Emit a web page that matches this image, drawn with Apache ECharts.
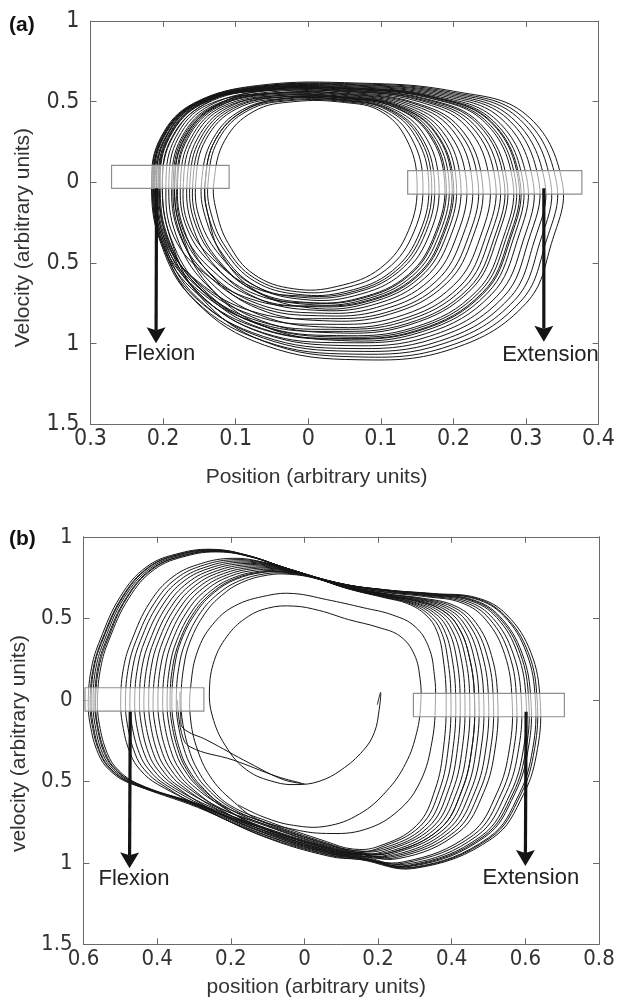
<!DOCTYPE html>
<html>
<head>
<meta charset="utf-8">
<script src="https://cdn.jsdelivr.net/npm/echarts@6/dist/echarts.min.js"></script>
<style>
  html, body { margin: 0; padding: 0; background: #ffffff; }
  #chart { width: 618px; height: 1002px; }
</style>
</head>
<body>
<div id="chart"></div>
<script>
// ---------- Panel (a): position / velocity cycles, one array per cycle ----------
const loopA01 = [[-0.13,0],[-0.115,0.26],[-0.075,0.44],[-0.02,0.5],[0.05,0.495],[0.1,0.44],[0.135,0.27],[0.15,0],[0.138,-0.3],[0.1,-0.53],[0.04,-0.645],[-0.02,-0.66],[-0.075,-0.57],[-0.11,-0.38],[-0.127,-0.17]];
const loopA02 = [[-0.138,0],[-0.124,0.262],[-0.083,0.445],[-0.024,0.507],[0.051,0.5],[0.104,0.445],[0.142,0.276],[0.158,0],[0.146,-0.303],[0.108,-0.539],[0.046,-0.66],[-0.016,-0.678],[-0.074,-0.594],[-0.113,-0.407],[-0.134,-0.191]];
const loopA03 = [[-0.142,0],[-0.128,0.263],[-0.087,0.448],[-0.026,0.512],[0.052,0.505],[0.108,0.45],[0.148,0.282],[0.166,0],[0.154,-0.306],[0.116,-0.548],[0.053,-0.676],[-0.013,-0.695],[-0.074,-0.613],[-0.115,-0.424],[-0.138,-0.202]];
const loopA04 = [[-0.142,0],[-0.128,0.263],[-0.087,0.448],[-0.031,0.521],[0.055,0.527],[0.127,0.474],[0.18,0.311],[0.204,0],[0.191,-0.322],[0.154,-0.589],[0.083,-0.749],[0.004,-0.779],[-0.071,-0.676],[-0.119,-0.451],[-0.138,-0.202]];
const loopA05 = [[-0.147,0],[-0.132,0.264],[-0.091,0.45],[-0.029,0.518],[0.053,0.513],[0.115,0.459],[0.16,0.293],[0.18,0],[0.168,-0.312],[0.13,-0.563],[0.064,-0.703],[-0.007,-0.726],[-0.073,-0.642],[-0.118,-0.445],[-0.142,-0.212]];
const loopA06 = [[-0.155,0],[-0.141,0.266],[-0.099,0.455],[-0.031,0.521],[0.052,0.509],[0.112,0.455],[0.155,0.288],[0.174,0],[0.162,-0.31],[0.124,-0.556],[0.059,-0.691],[-0.009,-0.713],[-0.073,-0.643],[-0.12,-0.462],[-0.149,-0.233]];
const loopA07 = [[-0.159,0],[-0.145,0.267],[-0.103,0.458],[-0.034,0.529],[0.054,0.521],[0.122,0.468],[0.171,0.303],[0.194,0],[0.181,-0.318],[0.144,-0.578],[0.075,-0.73],[0,-0.757],[-0.071,-0.681],[-0.123,-0.487],[-0.153,-0.244]];
const loopA08 = [[-0.163,0],[-0.149,0.268],[-0.107,0.46],[-0.035,0.53],[0.054,0.518],[0.119,0.464],[0.166,0.299],[0.188,0],[0.175,-0.315],[0.138,-0.572],[0.07,-0.718],[-0.003,-0.744],[-0.071,-0.677],[-0.124,-0.494],[-0.156,-0.254]];
const loopA09 = [[-0.167,0],[-0.153,0.269],[-0.111,0.463],[-0.039,0.538],[0.056,0.531],[0.13,0.478],[0.185,0.315],[0.21,0],[0.197,-0.324],[0.16,-0.596],[0.088,-0.761],[0.007,-0.792],[-0.07,-0.719],[-0.128,-0.52],[-0.16,-0.265]];
const loopA10 = [[-0.18,0],[-0.166,0.272],[-0.123,0.47],[-0.046,0.553],[0.059,0.549],[0.145,0.496],[0.209,0.338],[0.24,0],[0.227,-0.336],[0.19,-0.629],[0.112,-0.818],[0.021,-0.858],[-0.068,-0.785],[-0.134,-0.574],[-0.171,-0.296]];
const loopA11 = [[-0.181,0],[-0.168,0.272],[-0.125,0.471],[-0.042,0.544],[0.055,0.525],[0.125,0.471],[0.176,0.308],[0.2,0],[0.187,-0.32],[0.15,-0.585],[0.08,-0.741],[0.003,-0.77],[-0.07,-0.721],[-0.131,-0.55],[-0.172,-0.3]];
const loopA12 = [[-0.184,0],[-0.17,0.273],[-0.127,0.473],[-0.045,0.55],[0.057,0.536],[0.134,0.483],[0.191,0.321],[0.218,0],[0.205,-0.327],[0.168,-0.605],[0.094,-0.776],[0.011,-0.81],[-0.069,-0.754],[-0.134,-0.569],[-0.174,-0.307]];
const loopA13 = [[-0.186,0],[-0.173,0.274],[-0.129,0.474],[-0.05,0.561],[0.061,0.56],[0.154,0.508],[0.224,0.351],[0.258,0],[0.244,-0.343],[0.208,-0.649],[0.126,-0.853],[0.029,-0.898],[-0.066,-0.823],[-0.138,-0.605],[-0.177,-0.313]];
const loopA14 = [[-0.188,0],[-0.175,0.274],[-0.131,0.475],[-0.047,0.554],[0.058,0.541],[0.138,0.488],[0.198,0.327],[0.226,0],[0.213,-0.33],[0.176,-0.614],[0.101,-0.791],[0.014,-0.827],[-0.068,-0.772],[-0.136,-0.586],[-0.178,-0.317]];
const loopA15 = [[-0.184,0],[-0.171,0.274],[-0.127,0.475],[-0.056,0.572],[0.065,0.583],[0.173,0.531],[0.255,0.38],[0.296,0],[0.282,-0.358],[0.246,-0.691],[0.157,-0.926],[0.046,-0.981],[-0.064,-0.887],[-0.138,-0.636],[-0.174,-0.317]];
const loopA16 = [[-0.205,0],[-0.192,0.278],[-0.147,0.485],[-0.059,0.578],[0.063,0.574],[0.166,0.523],[0.244,0.369],[0.282,0],[0.268,-0.353],[0.232,-0.675],[0.146,-0.899],[0.039,-0.95],[-0.064,-0.887],[-0.146,-0.669],[-0.193,-0.359]];
const loopA17 = [[-0.201,0],[-0.188,0.278],[-0.143,0.485],[-0.067,0.593],[0.069,0.61],[0.196,0.56],[0.293,0.414],[0.342,0],[0.327,-0.377],[0.292,-0.741],[0.194,-1.015],[0.066,-1.082],[-0.061,-0.986],[-0.148,-0.713],[-0.189,-0.359]];
const loopA18 = [[-0.206,0],[-0.193,0.278],[-0.149,0.486],[-0.063,0.586],[0.066,0.591],[0.18,0.54],[0.267,0.39],[0.31,0],[0.296,-0.364],[0.26,-0.706],[0.168,-0.953],[0.052,-1.012],[-0.063,-0.935],[-0.149,-0.694],[-0.194,-0.363]];
const loopA19 = [[-0.207,0],[-0.194,0.279],[-0.149,0.487],[-0.056,0.572],[0.06,0.555],[0.15,0.503],[0.218,0.345],[0.25,0],[0.237,-0.34],[0.2,-0.64],[0.12,-0.838],[0.025,-0.88],[-0.066,-0.838],[-0.144,-0.653],[-0.195,-0.365]];
const loopA20 = [[-0.209,0],[-0.196,0.279],[-0.151,0.488],[-0.054,0.569],[0.058,0.545],[0.142,0.493],[0.204,0.333],[0.234,0],[0.221,-0.334],[0.184,-0.622],[0.107,-0.807],[0.018,-0.845],[-0.067,-0.813],[-0.143,-0.646],[-0.196,-0.37]];
const loopA21 = [[-0.204,0],[-0.191,0.279],[-0.146,0.488],[-0.061,0.583],[0.064,0.579],[0.17,0.528],[0.251,0.375],[0.29,0],[0.276,-0.356],[0.24,-0.684],[0.152,-0.915],[0.043,-0.968],[-0.064,-0.906],[-0.143,-0.686],[-0.191,-0.37]];
const loopA22 = [[-0.212,0],[-0.199,0.279],[-0.154,0.488],[-0.066,0.592],[0.068,0.601],[0.188,0.55],[0.28,0.402],[0.326,0],[0.311,-0.37],[0.276,-0.724],[0.181,-0.984],[0.059,-1.047],[-0.062,-0.965],[-0.154,-0.712],[-0.199,-0.37]];
const loopA23 = [[-0.211,0],[-0.197,0.279],[-0.153,0.489],[-0.059,0.577],[0.061,0.563],[0.157,0.511],[0.229,0.356],[0.264,0],[0.25,-0.346],[0.214,-0.655],[0.131,-0.864],[0.031,-0.911],[-0.065,-0.865],[-0.146,-0.672],[-0.198,-0.374]];
const loopA24 = [[-0.215,0],[-0.202,0.28],[-0.156,0.489],[-0.066,0.591],[0.067,0.596],[0.184,0.545],[0.274,0.396],[0.318,0],[0.303,-0.367],[0.268,-0.715],[0.174,-0.968],[0.056,-1.03],[-0.062,-0.955],[-0.156,-0.713],[-0.202,-0.376]];
const loopA25 = [[-0.213,0],[-0.2,0.28],[-0.155,0.49],[-0.06,0.58],[0.062,0.567],[0.16,0.515],[0.234,0.36],[0.27,0],[0.256,-0.348],[0.22,-0.662],[0.136,-0.876],[0.034,-0.924],[-0.065,-0.878],[-0.148,-0.682],[-0.2,-0.38]];
const loopA26 = [[-0.209,0],[-0.196,0.28],[-0.151,0.49],[-0.064,0.588],[0.065,0.586],[0.176,0.535],[0.26,0.384],[0.302,0],[0.288,-0.361],[0.252,-0.697],[0.162,-0.938],[0.048,-0.994],[-0.063,-0.931],[-0.147,-0.705],[-0.196,-0.38]];
const loopA27 = [[-0.216,0],[-0.203,0.28],[-0.158,0.49],[-0.068,0.596],[0.068,0.605],[0.192,0.555],[0.287,0.408],[0.334,0],[0.319,-0.374],[0.284,-0.732],[0.187,-0.999],[0.063,-1.065],[-0.061,-0.984],[-0.157,-0.728],[-0.203,-0.38]];
const loopA28 = [[-0.213,0],[-0.2,0.28],[-0.155,0.49],[-0.07,0.6],[0.07,0.615],[0.2,0.565],[0.3,0.42],[0.35,0],[0.335,-0.38],[0.3,-0.75],[0.2,-1.03],[0.07,-1.1],[-0.06,-1.01],[-0.155,-0.74],[-0.2,-0.38]];
const loopA29 = [[-0.176,0],[-0.162,0.271],[-0.119,0.468],[-0.039,0.538],[0.054,0.519],[0.12,0.465],[0.168,0.3],[0.19,0],[0.177,-0.316],[0.14,-0.574],[0.072,-0.722],[-0.002,-0.748],[-0.071,-0.697],[-0.128,-0.528],[-0.167,-0.286]];
const loopA30 = [[-0.196,0],[-0.183,0.276],[-0.139,0.48],[-0.046,0.552],[0.055,0.524],[0.124,0.47],[0.175,0.306],[0.198,0],[0.185,-0.319],[0.148,-0.583],[0.078,-0.737],[0.002,-0.766],[-0.069,-0.737],[-0.136,-0.587],[-0.185,-0.338]];
const loopA31 = [[-0.201,0],[-0.187,0.277],[-0.143,0.483],[-0.058,0.577],[0.064,0.577],[0.168,0.525],[0.247,0.372],[0.286,0],[0.272,-0.354],[0.236,-0.68],[0.149,-0.907],[0.041,-0.959],[-0.064,-0.888],[-0.145,-0.662],[-0.189,-0.349]];
const loopA32 = [[-0.214,0],[-0.201,0.28],[-0.156,0.489],[-0.062,0.585],[0.064,0.58],[0.171,0.529],[0.252,0.377],[0.292,0],[0.278,-0.357],[0.242,-0.686],[0.154,-0.918],[0.044,-0.972],[-0.063,-0.912],[-0.152,-0.694],[-0.202,-0.376]];
const loopA33 = [[-0.172,0],[-0.158,0.27],[-0.115,0.465],[-0.035,0.53],[0.052,0.507],[0.11,0.453],[0.152,0.285],[0.17,0],[0.158,-0.308],[0.12,-0.552],[0.056,-0.684],[-0.011,-0.704],[-0.072,-0.658],[-0.125,-0.502],[-0.164,-0.275]];
const loopA34 = [[-0.192,0],[-0.179,0.275],[-0.135,0.478],[-0.054,0.569],[0.062,0.569],[0.162,0.518],[0.237,0.363],[0.274,0],[0.26,-0.35],[0.224,-0.666],[0.139,-0.884],[0.036,-0.933],[-0.065,-0.857],[-0.141,-0.631],[-0.182,-0.328]];

const cyclesA = [loopA01, loopA02, loopA03, loopA04, loopA05, loopA06, loopA07, loopA08, loopA09, loopA10,
                 loopA11, loopA12, loopA13, loopA14, loopA15, loopA16, loopA17, loopA18, loopA19, loopA20,
                 loopA21, loopA22, loopA23, loopA24, loopA25, loopA26, loopA27, loopA28, loopA29, loopA30,
                 loopA31, loopA32, loopA33, loopA34];

// ---------- Panel (b): open spiral traces, then closed cycles ----------
const spiralB = [[0.198,-0.03],[0.207,0.045],[0.203,-0.06],[0.19,-0.2],[0.16,-0.31],[0.1,-0.43],[0.04,-0.5],[-0.02,-0.52],[-0.08,-0.505],[-0.157,-0.43],[-0.215,-0.28],[-0.25,-0.1],[-0.258,0.06],[-0.245,0.24],[-0.21,0.39],[-0.16,0.5],[-0.1,0.562],[-0.03,0.575],[0.04,0.548],[0.12,0.492],[0.2,0.445],[0.26,0.39],[0.298,0.28],[0.314,0.13],[0.316,-0.02],[0.305,-0.2],[0.275,-0.39],[0.223,-0.56],[0.15,-0.7],[0.06,-0.775],[-0.03,-0.77],[-0.11,-0.72],[-0.18,-0.645]];
const spiralArmB1 = [[-0.338,0.05],[-0.336,-0.1],[-0.329,-0.175],[-0.265,-0.247],[-0.148,-0.39],[-0.057,-0.49],[0.0,-0.515]];
const spiralArmB2 = [[-0.345,0.0],[-0.334,-0.2],[-0.311,-0.288],[-0.193,-0.37],[-0.075,-0.47],[-0.01,-0.51]];
const loopB00 = [[-0.19,-0.63],[-0.25,-0.49],[-0.29,-0.31],[-0.31,-0.1],[-0.308,0.1],[-0.29,0.3],[-0.25,0.46],[-0.19,0.575],[-0.1,0.64],[-0.03,0.652],[0.06,0.615],[0.16,0.565],[0.24,0.52],[0.3,0.45],[0.338,0.32],[0.353,0.15],[0.356,0],[0.347,-0.25],[0.315,-0.5],[0.255,-0.68],[0.165,-0.795],[0.06,-0.82],[-0.04,-0.79],[-0.13,-0.73]];
const loopB01 = [[-0.335,0],[-0.328,0.2],[-0.31,0.36],[-0.27,0.53],[-0.225,0.64],[-0.17,0.72],[-0.1,0.765],[-0.04,0.77],[0.03,0.745],[0.12,0.68],[0.22,0.625],[0.28,0.59],[0.33,0.52],[0.36,0.42],[0.377,0.25],[0.385,0],[0.378,-0.29],[0.355,-0.55],[0.305,-0.77],[0.2,-0.9],[0.13,-0.915],[0.06,-0.87],[-0.1,-0.745],[-0.2,-0.65],[-0.26,-0.53],[-0.29,-0.43],[-0.31,-0.33],[-0.33,-0.15]];
const loopB02 = [[-0.348,0],[-0.341,0.2],[-0.322,0.36],[-0.282,0.535],[-0.235,0.649],[-0.178,0.729],[-0.107,0.773],[-0.046,0.776],[0.024,0.75],[0.118,0.683],[0.22,0.629],[0.287,0.596],[0.344,0.531],[0.379,0.43],[0.401,0.254],[0.411,0],[0.404,-0.291],[0.379,-0.553],[0.326,-0.778],[0.21,-0.913],[0.132,-0.924],[0.061,-0.885],[-0.101,-0.76],[-0.205,-0.655],[-0.271,-0.529],[-0.302,-0.43],[-0.323,-0.33],[-0.343,-0.15]];
const loopB03 = [[-0.36,0],[-0.353,0.2],[-0.335,0.361],[-0.293,0.54],[-0.245,0.658],[-0.187,0.738],[-0.115,0.781],[-0.052,0.782],[0.024,0.75],[0.118,0.683],[0.22,0.629],[0.284,0.593],[0.337,0.525],[0.37,0.425],[0.389,0.252],[0.398,0],[0.391,-0.29],[0.367,-0.552],[0.315,-0.774],[0.205,-0.907],[0.132,-0.941],[0.061,-0.92],[-0.101,-0.8],[-0.209,-0.675],[-0.281,-0.528],[-0.314,-0.43],[-0.335,-0.33],[-0.355,-0.15]];
const loopB04 = [[-0.365,0],[-0.358,0.2],[-0.339,0.361],[-0.298,0.542],[-0.249,0.661],[-0.19,0.742],[-0.118,0.784],[-0.054,0.784],[0.014,0.758],[0.115,0.687],[0.221,0.636],[0.301,0.609],[0.372,0.552],[0.417,0.45],[0.448,0.262],[0.462,0],[0.455,-0.293],[0.427,-0.559],[0.367,-0.794],[0.23,-0.94],[0.134,-0.932],[0.062,-0.895],[-0.103,-0.77],[-0.211,-0.66],[-0.286,-0.528],[-0.319,-0.43],[-0.34,-0.33],[-0.36,-0.15]];
const loopB05 = [[-0.373,0],[-0.366,0.2],[-0.347,0.361],[-0.305,0.545],[-0.255,0.667],[-0.195,0.747],[-0.122,0.789],[-0.058,0.788],[0.009,0.762],[0.114,0.69],[0.221,0.639],[0.308,0.615],[0.386,0.562],[0.436,0.46],[0.472,0.266],[0.487,0],[0.48,-0.294],[0.451,-0.562],[0.387,-0.802],[0.24,-0.954],[0.136,-0.942],[0.062,-0.91],[-0.103,-0.79],[-0.214,-0.67],[-0.292,-0.527],[-0.326,-0.43],[-0.348,-0.33],[-0.368,-0.15]];
const loopB06 = [[-0.385,0],[-0.378,0.2],[-0.359,0.361],[-0.316,0.551],[-0.266,0.675],[-0.204,0.756],[-0.129,0.797],[-0.063,0.794],[0.016,0.756],[0.116,0.686],[0.221,0.634],[0.291,0.599],[0.351,0.536],[0.389,0.435],[0.413,0.256],[0.423,0],[0.416,-0.292],[0.391,-0.555],[0.336,-0.782],[0.215,-0.92],[0.134,-0.925],[0.062,-0.88],[-0.102,-0.755],[-0.219,-0.655],[-0.303,-0.526],[-0.338,-0.43],[-0.36,-0.33],[-0.38,-0.15]];
const loopB07 = [[-0.398,0],[-0.391,0.2],[-0.371,0.362],[-0.328,0.556],[-0.276,0.684],[-0.212,0.765],[-0.137,0.805],[-0.069,0.8],[0.012,0.759],[0.115,0.688],[0.221,0.636],[0.294,0.602],[0.358,0.541],[0.398,0.44],[0.425,0.258],[0.436,0],[0.429,-0.292],[0.403,-0.556],[0.346,-0.786],[0.22,-0.927],[0.135,-0.95],[0.062,-0.93],[-0.103,-0.81],[-0.223,-0.68],[-0.314,-0.526],[-0.35,-0.43],[-0.373,-0.33],[-0.393,-0.15]];
const loopB08 = [[-0.411,0],[-0.403,0.2],[-0.384,0.362],[-0.339,0.561],[-0.286,0.693],[-0.22,0.774],[-0.144,0.812],[-0.075,0.805],[0.009,0.762],[0.114,0.69],[0.221,0.639],[0.298,0.606],[0.365,0.546],[0.408,0.445],[0.437,0.26],[0.449,0],[0.442,-0.293],[0.415,-0.558],[0.356,-0.79],[0.225,-0.934],[0.136,-0.936],[0.062,-0.9],[-0.103,-0.775],[-0.228,-0.665],[-0.324,-0.525],[-0.362,-0.43],[-0.385,-0.33],[-0.406,-0.15]];
const loopB09 = [[-0.423,0],[-0.416,0.2],[-0.396,0.362],[-0.351,0.566],[-0.296,0.702],[-0.229,0.783],[-0.151,0.82],[-0.081,0.811],[0.005,0.765],[0.113,0.691],[0.221,0.641],[0.301,0.609],[0.372,0.552],[0.417,0.45],[0.448,0.262],[0.462,0],[0.455,-0.293],[0.427,-0.559],[0.367,-0.794],[0.23,-0.94],[0.137,-0.945],[0.063,-0.915],[-0.104,-0.795],[-0.233,-0.675],[-0.335,-0.524],[-0.374,-0.43],[-0.398,-0.33],[-0.418,-0.15]];
const loopB10 = [[-0.436,0],[-0.428,0.2],[-0.408,0.363],[-0.362,0.571],[-0.306,0.711],[-0.237,0.792],[-0.159,0.828],[-0.087,0.817],[-0.007,0.774],[0.109,0.697],[0.221,0.649],[0.319,0.624],[0.407,0.578],[0.465,0.475],[0.508,0.272],[0.525,0],[0.518,-0.296],[0.487,-0.567],[0.418,-0.814],[0.255,-0.974],[0.14,-0.936],[0.064,-0.89],[-0.106,-0.765],[-0.237,-0.66],[-0.346,-0.523],[-0.386,-0.43],[-0.41,-0.33],[-0.431,-0.15]];
const loopB11 = [[-0.448,0],[-0.441,0.2],[-0.42,0.363],[-0.374,0.576],[-0.316,0.72],[-0.246,0.801],[-0.166,0.836],[-0.093,0.823],[-0.001,0.77],[0.111,0.694],[0.221,0.645],[0.305,0.612],[0.379,0.557],[0.427,0.455],[0.46,0.264],[0.474,0],[0.467,-0.294],[0.439,-0.561],[0.377,-0.798],[0.235,-0.947],[0.138,-0.959],[0.064,-0.94],[-0.105,-0.82],[-0.242,-0.685],[-0.356,-0.522],[-0.398,-0.43],[-0.423,-0.33],[-0.443,-0.15]];
const loopB12 = [[-0.461,0],[-0.453,0.2],[-0.433,0.364],[-0.385,0.582],[-0.327,0.729],[-0.254,0.81],[-0.174,0.844],[-0.099,0.829],[-0.007,0.775],[0.109,0.697],[0.221,0.649],[0.312,0.618],[0.393,0.567],[0.446,0.465],[0.484,0.268],[0.5,0],[0.493,-0.295],[0.463,-0.564],[0.397,-0.806],[0.245,-0.96],[0.14,-0.943],[0.064,-0.905],[-0.106,-0.785],[-0.247,-0.665],[-0.367,-0.521],[-0.41,-0.43],[-0.435,-0.33],[-0.456,-0.15]];
const loopB13 = [[-0.474,0],[-0.466,0.2],[-0.445,0.364],[-0.397,0.587],[-0.337,0.737],[-0.262,0.819],[-0.181,0.852],[-0.104,0.835],[-0.011,0.778],[0.108,0.698],[0.222,0.651],[0.315,0.621],[0.4,0.573],[0.455,0.47],[0.496,0.27],[0.513,0],[0.506,-0.295],[0.475,-0.565],[0.408,-0.81],[0.25,-0.967],[0.141,-0.955],[0.065,-0.925],[-0.106,-0.805],[-0.251,-0.675],[-0.378,-0.52],[-0.422,-0.43],[-0.448,-0.33],[-0.469,-0.15]];
const loopB14 = [[-0.486,0],[-0.478,0.2],[-0.457,0.364],[-0.408,0.592],[-0.347,0.746],[-0.271,0.828],[-0.188,0.86],[-0.11,0.841],[-0.021,0.785],[0.105,0.703],[0.222,0.658],[0.329,0.633],[0.428,0.594],[0.493,0.49],[0.544,0.278],[0.564,0],[0.557,-0.297],[0.523,-0.571],[0.449,-0.826],[0.27,-0.994],[0.144,-0.97],[0.066,-0.95],[-0.108,-0.83],[-0.256,-0.69],[-0.388,-0.519],[-0.434,-0.43],[-0.46,-0.33],[-0.481,-0.15]];
const loopB15 = [[-0.499,0],[-0.491,0.2],[-0.469,0.365],[-0.42,0.597],[-0.357,0.755],[-0.279,0.837],[-0.196,0.868],[-0.116,0.847],[-0.027,0.79],[0.103,0.705],[0.222,0.661],[0.336,0.64],[0.442,0.604],[0.512,0.5],[0.567,0.282],[0.589,0],[0.582,-0.298],[0.547,-0.574],[0.469,-0.834],[0.28,-1.007],[0.145,-0.951],[0.067,-0.91],[-0.109,-0.79],[-0.26,-0.67],[-0.399,-0.518],[-0.446,-0.43],[-0.473,-0.33],[-0.494,-0.15]];
const loopB16 = [[-0.562,0],[-0.553,0.2],[-0.531,0.366],[-0.477,0.623],[-0.408,0.799],[-0.321,0.882],[-0.232,0.907],[-0.145,0.876],[-0.034,0.796],[0.101,0.709],[0.222,0.666],[0.333,0.637],[0.435,0.599],[0.503,0.495],[0.556,0.28],[0.576,0],[0.569,-0.298],[0.535,-0.573],[0.459,-0.83],[0.275,-1],[0.147,-0.978],[0.067,-0.96],[-0.11,-0.84],[-0.284,-0.66],[-0.453,-0.514],[-0.506,-0.43],[-0.535,-0.33],[-0.557,-0.15]];
const loopB17 = [[-0.567,0],[-0.558,0.2],[-0.535,0.366],[-0.482,0.625],[-0.412,0.803],[-0.325,0.886],[-0.235,0.91],[-0.148,0.879],[-0.043,0.803],[0.099,0.713],[0.223,0.672],[0.347,0.649],[0.463,0.62],[0.541,0.515],[0.603,0.288],[0.627,0],[0.62,-0.3],[0.583,-0.579],[0.5,-0.846],[0.295,-1.027],[0.15,-0.966],[0.068,-0.93],[-0.111,-0.8],[-0.286,-0.645],[-0.457,-0.513],[-0.511,-0.43],[-0.54,-0.33],[-0.562,-0.15]];
const loopB18 = [[-0.569,0],[-0.561,0.2],[-0.538,0.367],[-0.484,0.626],[-0.414,0.805],[-0.326,0.887],[-0.237,0.912],[-0.149,0.88],[-0.041,0.801],[0.099,0.712],[0.223,0.67],[0.342,0.645],[0.453,0.612],[0.527,0.508],[0.586,0.285],[0.609,0],[0.602,-0.299],[0.566,-0.576],[0.485,-0.84],[0.288,-1.018],[0.149,-0.973],[0.068,-0.945],[-0.111,-0.825],[-0.286,-0.655],[-0.459,-0.513],[-0.513,-0.43],[-0.543,-0.33],[-0.564,-0.15]];
const loopB19 = [[-0.574,0],[-0.566,0.2],[-0.543,0.367],[-0.489,0.628],[-0.418,0.808],[-0.33,0.891],[-0.24,0.915],[-0.151,0.882],[-0.04,0.801],[0.099,0.712],[0.223,0.67],[0.34,0.643],[0.449,0.609],[0.522,0.505],[0.579,0.284],[0.602,0],[0.595,-0.299],[0.559,-0.576],[0.479,-0.838],[0.285,-1.014],[0.149,-0.968],[0.068,-0.935],[-0.111,-0.81],[-0.288,-0.65],[-0.463,-0.513],[-0.518,-0.43],[-0.548,-0.33],[-0.569,-0.15]];
const loopB20 = [[-0.579,0],[-0.571,0.2],[-0.548,0.367],[-0.493,0.63],[-0.422,0.812],[-0.333,0.895],[-0.243,0.918],[-0.154,0.885],[-0.047,0.806],[0.097,0.714],[0.223,0.674],[0.35,0.652],[0.47,0.625],[0.55,0.52],[0.615,0.29],[0.64,0],[0.633,-0.3],[0.595,-0.58],[0.51,-0.85],[0.3,-1.034],[0.151,-0.98],[0.069,-0.955],[-0.112,-0.835],[-0.29,-0.66],[-0.468,-0.513],[-0.523,-0.43],[-0.553,-0.33],[-0.574,-0.15]];
const loopB21 = [[-0.582,0],[-0.573,0.2],[-0.55,0.367],[-0.495,0.631],[-0.424,0.813],[-0.335,0.896],[-0.244,0.92],[-0.155,0.886],[-0.046,0.805],[0.098,0.714],[0.223,0.674],[0.348,0.65],[0.466,0.622],[0.544,0.517],[0.608,0.289],[0.632,0],[0.625,-0.3],[0.588,-0.579],[0.504,-0.848],[0.297,-1.03],[0.15,-0.972],[0.069,-0.94],[-0.112,-0.815],[-0.291,-0.645],[-0.47,-0.512],[-0.525,-0.43],[-0.555,-0.33],[-0.577,-0.15]];
const loopB22 = [[-0.587,0],[-0.578,0.2],[-0.555,0.367],[-0.5,0.633],[-0.428,0.817],[-0.338,0.9],[-0.247,0.923],[-0.157,0.888],[-0.044,0.804],[0.098,0.713],[0.223,0.673],[0.343,0.646],[0.456,0.615],[0.531,0.51],[0.591,0.286],[0.615,0],[0.608,-0.299],[0.571,-0.577],[0.49,-0.842],[0.29,-1.021],[0.15,-0.961],[0.069,-0.92],[-0.111,-0.79],[-0.293,-0.635],[-0.474,-0.512],[-0.53,-0.43],[-0.56,-0.33],[-0.582,-0.15]];

const openTracesB = [spiralB, spiralArmB1, spiralArmB2];
const cyclesB = [loopB00, loopB01, loopB02, loopB03, loopB04, loopB05, loopB06, loopB07, loopB08, loopB09,
                 loopB10, loopB11, loopB12, loopB13, loopB14, loopB15, loopB16, loopB17, loopB18, loopB19,
                 loopB20, loopB21, loopB22];

// ---------- Axis ranges and annotations (data units) ----------
const xRangeA = [-0.3, 0.4, 0.1];
const xRangeB = [-0.6, 0.8, 0.2];
const yRange = [-1.5, 1, 0.5];

// boxes: [x1, y1, x2, y2]
const boxesA = [[-0.271, 0.105, -0.109, -0.037], [0.137, 0.072, 0.377, -0.073]];
const boxesB = [[-0.596, 0.074, -0.273, -0.069], [0.296, 0.040, 0.706, -0.104]];
// arrows: [xStart, yStart, xTip, yTip]
const arrowsA = [[-0.209, -0.037, -0.2097, -0.998], [0.3246, -0.037, 0.3246, -0.988]];
const arrowsB = [[-0.473, -0.073, -0.475, -1.034], [0.602, -0.073, 0.600, -1.02]];
// phase labels: [text, x, y]
const phaseLabelsA = [['Flexion', -0.2045, -1.064], ['Extension', 0.3337, -1.067]];
const phaseLabelsB = [['Flexion', -0.463, -1.099], ['Extension', 0.615, -1.093]];

// ---------- Helpers ----------
const AXIS_COLOR = '#6a6a6a';
const TRACE_COLOR = '#151515';
const TICK_FONT = '"Liberation Sans Narrow", "DejaVu Sans Condensed", sans-serif';
const NAME_FONT = '"Liberation Sans", Arial, sans-serif';

function tickText(v) {
  return String(Math.round(Math.abs(v) * 10) / 10);
}

function valueAxis(gridIndex, range, position, opts) {
  const showLabel = !!opts.label;
  return {
    type: 'value',
    gridIndex: gridIndex,
    position: position,
    min: range[0],
    max: range[1],
    interval: range[2],
    axisLine: { show: true, onZero: false, lineStyle: { color: AXIS_COLOR, width: 1 } },
    axisTick: { show: true, inside: true, length: 6, lineStyle: { color: AXIS_COLOR, width: 1 } },
    splitLine: { show: false },
    axisLabel: showLabel ? {
      show: true, formatter: tickText, margin: opts.margin,
      color: '#333', fontFamily: TICK_FONT, fontSize: opts.fontSize
    } : { show: false },
    name: opts.name || '',
    nameLocation: 'middle',
    nameGap: opts.nameGap || 0,
    nameTextStyle: {
      color: '#333', fontFamily: NAME_FONT, fontSize: 21,
      padding: opts.namePad || 0
    }
  };
}

// each closed cycle is drawn as a smooth closed curve through its sampled points
function cycleRenderer(cycles) {
  return function (params, api) {
    const pts = cycles[params.dataIndex].map(function (p) { return api.coord(p); });
    return {
      type: 'polygon',
      shape: { points: pts, smooth: 0.4 },
      style: { fill: 'none', stroke: TRACE_COLOR, lineWidth: 1 }
    };
  };
}

function openRenderer(paths) {
  return function (params, api) {
    const pts = paths[params.dataIndex].map(function (p) { return api.coord(p); });
    return {
      type: 'polyline',
      shape: { points: pts, smooth: 0.4 },
      style: { fill: null, stroke: TRACE_COLOR, lineWidth: 1 }
    };
  };
}

function cycleSeries(cycles, axisIndex, open) {
  return {
    type: 'custom',
    xAxisIndex: axisIndex, yAxisIndex: axisIndex,
    renderItem: open ? openRenderer(cycles) : cycleRenderer(cycles),
    data: cycles.map(function (c) { return c[0]; }),
    silent: true, z: 2, animation: false
  };
}

function renderBox(params, api) {
  const a = api.coord([api.value(0), api.value(1)]);
  const b = api.coord([api.value(2), api.value(3)]);
  return {
    type: 'rect',
    shape: { x: Math.min(a[0], b[0]), y: Math.min(a[1], b[1]),
             width: Math.abs(b[0] - a[0]), height: Math.abs(b[1] - a[1]) },
    style: { fill: 'rgba(255,255,255,0.6)', stroke: '#8e8e8e', lineWidth: 1.2 }
  };
}

function renderArrow(params, api) {
  const a = api.coord([api.value(0), api.value(1)]);
  const b = api.coord([api.value(2), api.value(3)]);
  const dx = b[0] - a[0], dy = b[1] - a[1];
  const len = Math.sqrt(dx * dx + dy * dy);
  const ux = dx / len, uy = dy / len;
  const headLen = 16, headHalf = 9.5;
  const bx = b[0] - ux * headLen, by = b[1] - uy * headLen;
  const nx = -uy, ny = ux;
  return {
    type: 'group',
    children: [
      { type: 'line', shape: { x1: a[0], y1: a[1], x2: bx + ux * 3, y2: by + uy * 3 },
        style: { stroke: '#141414', lineWidth: 3.2 } },
      { type: 'polygon',
        shape: { points: [[b[0], b[1]], [bx + nx * headHalf, by + ny * headHalf],
                          [bx + ux * 3, by + uy * 3], [bx - nx * headHalf, by - ny * headHalf]] },
        style: { fill: '#141414' } }
    ]
  };
}

function labelRenderer(list) {
  return function (params, api) {
    const p = api.coord([api.value(0), api.value(1)]);
    return {
      type: 'text', x: p[0], y: p[1],
      style: {
        text: list[params.dataIndex][0], fill: '#222',
        font: '22px "Liberation Sans", Arial, sans-serif',
        align: 'center', verticalAlign: 'middle',
        textAlign: 'center', textVerticalAlign: 'middle'
      }
    };
  };
}

function annotationSeries(boxes, arrows, labels, axisIndex) {
  return [
    { type: 'custom', xAxisIndex: axisIndex, yAxisIndex: axisIndex, z: 4, silent: true,
      dimensions: ['x1', 'y1', 'x2', 'y2'], encode: { x: [0, 2], y: [1, 3] },
      renderItem: renderBox, data: boxes, animation: false },
    { type: 'custom', xAxisIndex: axisIndex, yAxisIndex: axisIndex, z: 5, silent: true,
      dimensions: ['x1', 'y1', 'x2', 'y2'], encode: { x: [0, 2], y: [1, 3] },
      renderItem: renderArrow, data: arrows, animation: false },
    { type: 'custom', xAxisIndex: axisIndex, yAxisIndex: axisIndex, z: 5, silent: true,
      renderItem: labelRenderer(labels), data: labels.map(function (l) { return [l[1], l[2]]; }),
      clip: false, animation: false }
  ];
}

// ---------- Chart ----------
const chart = echarts.init(document.getElementById('chart'), null, { renderer: 'canvas' });

const option = {
  animation: false,
  backgroundColor: '#ffffff',
  grid: [
    { left: 90.5, right: 15.2, top: 21, height: 403.3, containLabel: false },
    { left: 83.5, right: 19, top: 536.8, height: 407.5, containLabel: false }
  ],
  xAxis: [
    valueAxis(0, xRangeA, 'bottom', { label: true, margin: 3, fontSize: 23,
      name: 'Position (arbitrary units)', nameGap: 42, namePad: [0, 56, 0, 0] }),
    valueAxis(0, xRangeA, 'top', {}),
    valueAxis(1, xRangeB, 'bottom', { label: true, margin: 4, fontSize: 22,
      name: 'position (arbitrary units)', nameGap: 32, namePad: [0, 50, 0, 0] }),
    valueAxis(1, xRangeB, 'top', {})
  ],
  yAxis: [
    valueAxis(0, yRange, 'left', { label: true, margin: 11, fontSize: 23,
      name: 'Velocity (arbitrary units)', nameGap: 57, namePad: [0, 30, 0, 0] }),
    valueAxis(0, yRange, 'right', {}),
    valueAxis(1, yRange, 'left', { label: true, margin: 11, fontSize: 22,
      name: 'velocity (arbitrary units)', nameGap: 52, namePad: [0, 6, 0, 0] }),
    valueAxis(1, yRange, 'right', {})
  ],
  graphic: [
    { type: 'text', left: 9, top: 15, silent: true,
      style: { text: '(a)', font: 'bold 21px "Liberation Sans", Arial, sans-serif', fill: '#111' } },
    { type: 'text', left: 9, top: 529, silent: true,
      style: { text: '(b)', font: 'bold 21px "Liberation Sans", Arial, sans-serif', fill: '#111' } }
  ],
  series: [cycleSeries(cyclesA, 0, false), cycleSeries(cyclesB, 2, false), cycleSeries(openTracesB, 2, true)]
    .concat(annotationSeries(boxesA, arrowsA, phaseLabelsA, 0))
    .concat(annotationSeries(boxesB, arrowsB, phaseLabelsB, 2))
};

chart.setOption(option);
</script>
</body>
</html>
